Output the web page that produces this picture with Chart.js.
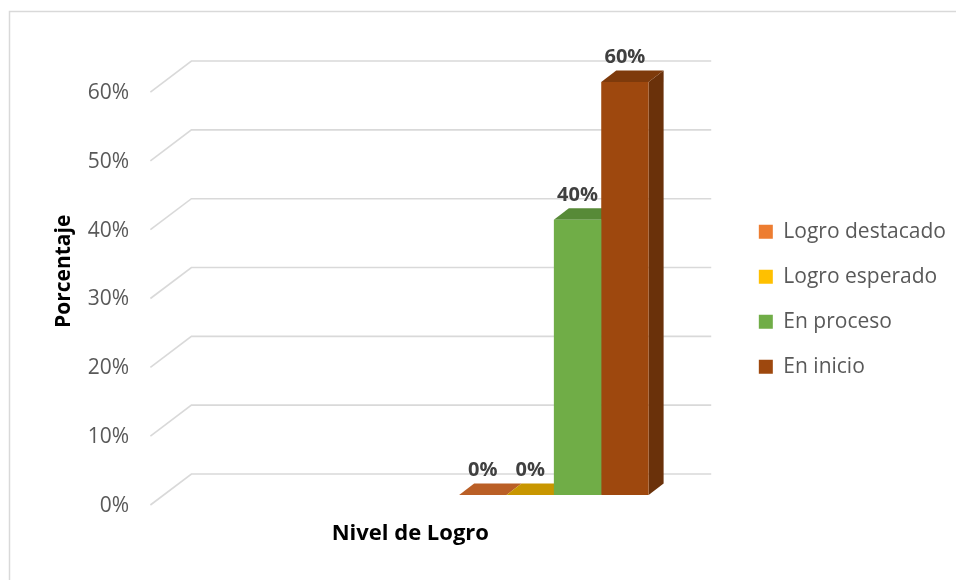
<!DOCTYPE html>
<html lang="es">
<head>
<meta charset="utf-8">
<title>Nivel de Logro</title>
<script src="https://cdn.jsdelivr.net/npm/chart.js@4/dist/chart.umd.min.js"></script>
<style>
  html, body { margin: 0; padding: 0; background: #ffffff; }
  #wrap { width: 956px; height: 580px; }
</style>
</head>
<body>
<div id="wrap"><canvas id="chart" width="956" height="580"></canvas></div>
<script>
// Achievement levels and the share of students in each one (%)
const levels = ['Logro destacado', 'Logro esperado', 'En proceso', 'En inicio'];
const shares = [0, 0, 40, 60];
// The first category slot stays empty, the group sits in the second one
const categories = ['', 'Nivel de Logro'];
const yTicks = [0, 10, 20, 30, 40, 50, 60];
const xTitle = 'Nivel de Logro';
const yTitle = 'Porcentaje';

// Face colours of each prism: front, top, right side
const frontColors = ['#ED7D31', '#FFC000', '#70AD47', '#9E480E'];
const topColors   = ['#BA5F26', '#C89600', '#578A37', '#7E3A0B'];
const sideColors  = ['#A8561F', '#B38600', '#4C7A30', '#6A310A'];

const FONT = "'Open Sans', 'Liberation Sans', sans-serif";

// Depth of each prism and of the back wall behind them
const BAR_DX = 15, BAR_DY = -11.5;
const FRONT_DX = -13.6, FRONT_DY = 10;   // front edge of the floor
const WALL_DX = 27.4, WALL_DY = -21;     // back wall

const depthPlugin = {
  id: 'depth3d',
  afterLayout(chart) {
    // centre the category title under the front edge of the floor
    const x = chart.scales.x;
    x.left += FRONT_DX;
    x.right += FRONT_DX;
  },
  beforeDraw(chart) {
    const { ctx, width, height } = chart;
    ctx.save();
    ctx.fillStyle = '#ffffff';
    ctx.fillRect(0, 0, width, height);
    ctx.strokeStyle = '#d9d9d9';
    ctx.lineWidth = 1.5;
    ctx.beginPath();
    ctx.moveTo(9.5, height);
    ctx.lineTo(9.5, 11.5);
    ctx.lineTo(width, 11.5);
    ctx.stroke();
    ctx.restore();
  },
  beforeDatasetsDraw(chart) {
    const { ctx, chartArea, scales } = chart;
    const y = scales.y;
    ctx.save();
    // floor edge + back wall gridlines
    ctx.strokeStyle = '#d9d9d9';
    ctx.lineWidth = 1.6;
    yTicks.forEach(v => {
      const py = y.getPixelForValue(v);
      ctx.beginPath();
      ctx.moveTo(chartArea.left + FRONT_DX, py + FRONT_DY);
      ctx.lineTo(chartArea.left + WALL_DX, py + WALL_DY);
      ctx.lineTo(chartArea.right + WALL_DX, py + WALL_DY);
      ctx.stroke();
    });
    // side and top faces, drawn before the fronts so the next bar covers them
    chart.data.datasets.forEach((ds, i) => {
      const meta = chart.getDatasetMeta(i);
      meta.data.forEach((bar, j) => {
        if (ds.data[j] == null) return;
        const { x, y: top, base, width } = bar.getProps(['x', 'y', 'base', 'width'], true);
        const l = x - width / 2, r = x + width / 2;
        ctx.fillStyle = sideColors[i];
        ctx.beginPath();
        ctx.moveTo(r, top);
        ctx.lineTo(r + BAR_DX, top + BAR_DY);
        ctx.lineTo(r + BAR_DX, base + BAR_DY);
        ctx.lineTo(r, base);
        ctx.closePath();
        ctx.fill();
        ctx.fillStyle = topColors[i];
        ctx.beginPath();
        ctx.moveTo(l, top);
        ctx.lineTo(l + BAR_DX, top + BAR_DY);
        ctx.lineTo(r + BAR_DX, top + BAR_DY);
        ctx.lineTo(r, top);
        ctx.closePath();
        ctx.fill();
      });
    });
    ctx.restore();
  },
  afterDatasetsDraw(chart) {
    const { ctx } = chart;
    ctx.save();
    ctx.font = `bold 20px ${FONT}`;
    ctx.fillStyle = '#404040';
    ctx.textAlign = 'center';
    ctx.textBaseline = 'middle';
    chart.data.datasets.forEach((ds, i) => {
      const meta = chart.getDatasetMeta(i);
      meta.data.forEach((bar, j) => {
        const v = ds.data[j];
        if (v == null) return;
        const { x, y } = bar.getProps(['x', 'y'], true);
        ctx.fillText(v + '%', x, y - 24.5);
      });
    });
    ctx.restore();
  }
};

const datasets = levels.map((name, i) => ({
  label: name,
  data: categories.map((_, c) => (c === 1 ? shares[i] : null)),
  backgroundColor: frontColors[i],
  borderWidth: 0,
  categoryPercentage: 0.729,
  barPercentage: 1.0
}));

new Chart(document.getElementById('chart'), {
  type: 'bar',
  data: { labels: categories, datasets },
  plugins: [depthPlugin],
  options: {
    responsive: false,
    devicePixelRatio: 1,
    animation: false,
    layout: { padding: { top: 34.6, left: 0, right: 0, bottom: 16.2 } },
    plugins: {
      tooltip: { enabled: false },
      legend: {
        position: 'right',
        maxWidth: 300,
        labels: {
          font: { family: FONT, size: 21 },
          color: '#595959',
          boxWidth: 14,
          boxHeight: 14,
          padding: 24
        }
      }
    },
    scales: {
      x: {
        grid: { display: false, drawTicks: false },
        border: { display: false },
        ticks: { display: false },
        title: {
          display: true,
          text: xTitle,
          color: '#000000',
          font: { family: FONT, size: 22, weight: 'bold' },
          padding: { top: 0, bottom: 16.8 }
        },
        afterFit: s => { s.height = 68.8; }
      },
      y: {
        min: 0,
        max: 65,
        grid: { display: false, drawTicks: false },
        border: { display: false },
        afterBuildTicks: s => { s.ticks = yTicks.map(v => ({ value: v })); },
        ticks: {
          padding: 35,
          labelOffset: 11,
          color: '#595959',
          font: { family: FONT, size: 21 },
          callback: v => v + '%'
        },
        title: {
          display: true,
          text: yTitle,
          color: '#000000',
          font: { family: FONT, size: 21, weight: 'bold' },
          padding: { top: 51.4, bottom: 0 }
        },
        afterFit: s => { s.width = 164; }
      },
      // room for the receding back wall between the floor and the legend
      depth: {
        type: 'linear',
        position: 'right',
        display: true,
        grid: { display: false, drawTicks: false },
        border: { display: false },
        ticks: { display: false },
        afterFit: s => { s.width = 51; }
      }
    }
  }
});
</script>
</body>
</html>
